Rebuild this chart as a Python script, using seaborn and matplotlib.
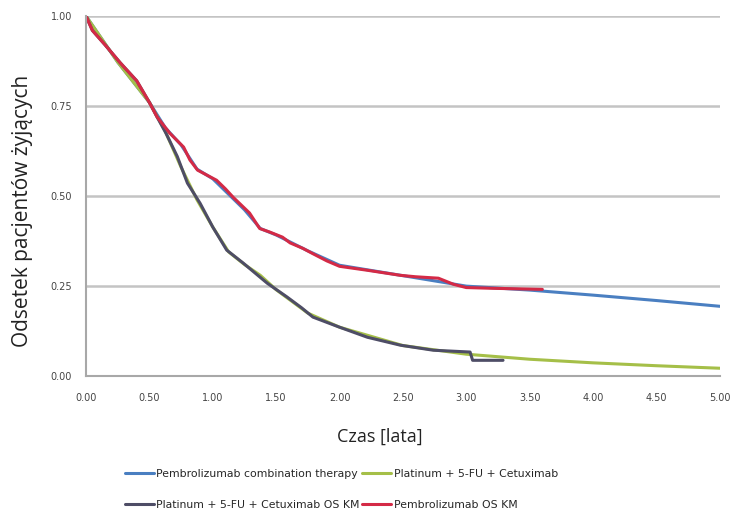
import matplotlib
matplotlib.use("Agg")
import matplotlib.pyplot as plt
import pandas as pd
import seaborn as sns

# Modelled overall survival (years, proportion alive)
model_t = [0.0, 0.25, 0.5, 0.625, 0.75, 0.875, 1.0, 1.125, 1.25, 1.375, 1.5, 1.75, 2.0, 2.5,
           3.0, 3.5, 4.0, 4.5, 5.0]
pembro_model = [1.0, 0.872, 0.76, 0.69, 0.642, 0.575, 0.548, 0.505, 0.462, 0.41, 0.392, 0.348,
                0.308, 0.279, 0.250, 0.239, 0.225, 0.21, 0.194]
platinum_model = [1.0, 0.872, 0.76, 0.68, 0.58, 0.49, 0.414, 0.345, 0.31, 0.28, 0.24, 0.175,
                  0.136, 0.085, 0.061, 0.047, 0.037, 0.029, 0.022]

# Kaplan-Meier overall survival
pembro_km_t = [0.0, 0.05, 0.15, 0.27, 0.4, 0.5, 0.56, 0.66, 0.77, 0.82, 0.88, 1.03, 1.1, 1.16,
               1.29, 1.37, 1.45, 1.55, 1.61, 1.71, 1.79, 1.9, 2.0, 2.22, 2.48, 2.6, 2.78, 2.9,
               3.0, 3.2, 3.6]
pembro_km_s = [1.0, 0.96, 0.92, 0.87, 0.82, 0.76, 0.72, 0.675, 0.636, 0.60, 0.572, 0.544, 0.52,
               0.497, 0.453, 0.41, 0.40, 0.386, 0.37, 0.355, 0.34, 0.32, 0.305, 0.294, 0.28,
               0.276, 0.272, 0.255, 0.246, 0.244, 0.241]
platinum_km_t = [0.0, 0.05, 0.15, 0.27, 0.4, 0.5, 0.56, 0.63, 0.72, 0.8, 0.9, 1.0, 1.11, 1.24,
                 1.43, 1.585, 1.7, 1.79, 2.0, 2.22, 2.48, 2.74, 3.03, 3.05, 3.29]
platinum_km_s = [1.0, 0.96, 0.92, 0.87, 0.82, 0.76, 0.72, 0.675, 0.61, 0.536, 0.48, 0.414, 0.35,
                 0.314, 0.258, 0.22, 0.19, 0.164, 0.136, 0.108, 0.086, 0.072, 0.067, 0.044, 0.044]

labels = ["Pembrolizumab combination therapy", "Platinum + 5-FU + Cetuximab",
          "Platinum + 5-FU + Cetuximab OS KM", "Pembrolizumab OS KM"]
colors = ["#4a7fc1", "#a5bf48", "#4e4d66", "#d42a46"]
x_ticks = [0.0, 0.5, 1.0, 1.5, 2.0, 2.5, 3.0, 3.5, 4.0, 4.5, 5.0]
y_ticks = [0.0, 0.25, 0.5, 0.75, 1.0]

sns.set_theme(style="white")
plt.rcParams["font.family"] = ["DejaVu Sans"]

fig = plt.figure(figsize=(7.39, 5.16), dpi=100)
ax = fig.add_axes([0.1164, 0.271, 0.8576, 0.698])

series = [
    (model_t, pembro_model, labels[0], colors[0]),
    (model_t, platinum_model, labels[1], colors[1]),
    (platinum_km_t, platinum_km_s, labels[2], colors[2]),
    (pembro_km_t, pembro_km_s, labels[3], colors[3]),
]
for t, s, lab, col in series:
    df = pd.DataFrame({"t": t, "s": s})
    sns.lineplot(data=df, x="t", y="s", ax=ax, color=col, linewidth=2.2,
                 label=lab, estimator=None, sort=False)

ax.set_xlim(0, 5)
ax.set_ylim(0, 1)
ax.set_xticks(x_ticks)
ax.set_yticks(y_ticks)
ax.set_xticklabels([f"{v:.2f}" for v in x_ticks], fontsize=7, color="#444444")
ax.set_yticklabels([f"{v:.2f}" for v in y_ticks], fontsize=7, color="#444444")
ax.tick_params(axis="x", length=0, pad=12)
ax.tick_params(axis="y", length=0, pad=10)
ax.grid(axis="y", color="#c4c4c4", linewidth=1.8)
ax.grid(axis="x", visible=False)
ax.set_axisbelow(True)
for side in ["top", "right"]:
    ax.spines[side].set_visible(False)
for side in ["left", "bottom"]:
    ax.spines[side].set_color("#a8a8a8")
    ax.spines[side].set_linewidth(1.5)

ax.set_xlabel("Czas [lata]", fontsize=13, family="Open Sans", color="#222222")
ax.set_ylabel("Odsetek pacjentów żyjących", fontsize=15, family="Open Sans",
              color="#222222")
ax.xaxis.set_label_coords(0.464, -0.142)
ax.yaxis.set_label_coords(-0.084, 0.458)

handles, hl = ax.get_legend_handles_labels()
order = [0, 2, 1, 3]
ax.legend([handles[i] for i in order], [hl[i] for i in order], ncol=2,
          loc="upper left", bbox_to_anchor=(125 / 739, 0.091), bbox_transform=fig.transFigure,
          frameon=False, fontsize=7.8, handlelength=2.7, handletextpad=0.2,
          columnspacing=0.2, labelspacing=1.9, borderpad=0, borderaxespad=0)

fig.savefig("out.png", dpi=100, facecolor="white")
